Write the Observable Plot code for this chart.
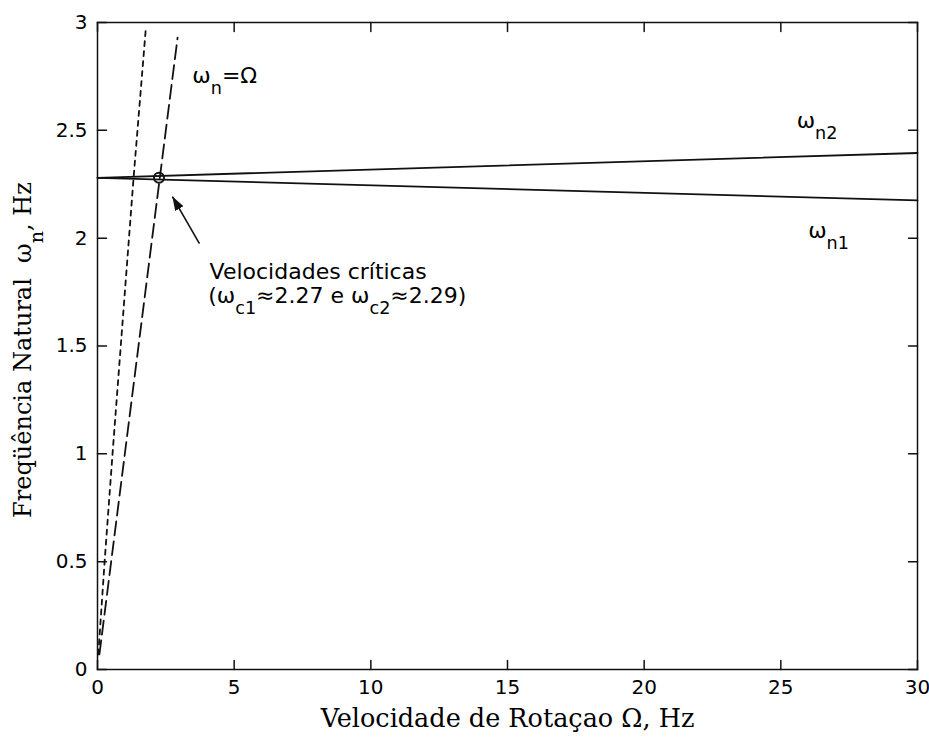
<!DOCTYPE html>
<html><head><meta charset="utf-8">
<script src="https://cdn.jsdelivr.net/npm/d3@7"></script>
<script src="https://cdn.jsdelivr.net/npm/@observablehq/plot@0.6"></script>
<style>body{margin:0;background:#fff;overflow:hidden}</style>
</head><body><div id="chart"></div>
<script>
// ---- data ----
const xTicks = [0, 5, 10, 15, 20, 25, 30];
const yTicks = [0, 0.5, 1, 1.5, 2, 2.5, 3];
const speedX = [0, 30];
const wn1 = [2.28, 2.175];
const wn2 = [2.28, 2.395];
const identX = [0.07, 2.93];
const identY = [0.07, 2.93];
const dashX = [0.03, 0.26, 0.55, 1.32, 1.76];
const dashY = [0.07, 0.5, 1.0, 2.28, 2.96];
const critX = [2.25];
const critY = [2.28];
const labelText = ["ω_{n}=Ω", "ω_{n2}", "ω_{n1}", "Velocidades críticas", "(ω_{c1}≈2.27 e ω_{c2}≈2.29)"];
const labelX = [3.47, 25.58, 26.0, 4.1, 4.05];
const labelY = [2.754, 2.545, 2.035, 1.845, 1.73];
const arrowFrom = [3.73, 1.975];
const arrowTo = [2.74, 2.193];
const xLabel = "Velocidade de Rotaçao Ω, Hz";
const yLabel = "Freqüência Natural\u00a0\u00a0ω_{n}, Hz";

// ---- tables ----
const line1 = d3.zip(speedX, wn1).map(([x, y]) => ({x, y}));
const line2 = d3.zip(speedX, wn2).map(([x, y]) => ({x, y}));
const identLine = d3.zip(identX, identY).map(([x, y]) => ({x, y}));
const dashLine = d3.zip(dashX, dashY).map(([x, y]) => ({x, y}));
const crit = d3.zip(critX, critY).map(([x, y]) => ({x, y}));
const labels = labelText.map((t, i) => ({t, x: labelX[i], y: labelY[i]}));
const arrows = [{x1: arrowFrom[0], y1: arrowFrom[1], x2: arrowTo[0], y2: arrowTo[1]}];

const INK = "#111";
const tickShape = {draw(ctx, l) { ctx.moveTo(0, 0); ctx.lineTo(0, -l); }};
const tickOpts = {length: 9, anchor: "start", shape: tickShape, stroke: INK, strokeWidth: 1.5};

function filledHead(color) {
  const m = d3.create("svg:marker")
    .attr("viewBox", "-14 -5 14 10")
    .attr("markerWidth", 14).attr("markerHeight", 10)
    .attr("markerUnits", "userSpaceOnUse")
    .attr("refX", 0).attr("refY", 0)
    .attr("orient", "auto");
  m.append("path").attr("d", "M0,0L-14,-4.8L-14,4.8Z").attr("fill", color).attr("stroke", "none");
  return m.node();
}

function build(arrowMark) {
  return Plot.plot({
    width: 929, height: 744,
    marginLeft: 97, marginRight: 12, marginTop: 22, marginBottom: 75,
    x: {domain: [0, 30]},
    y: {domain: [0, 3]},
    style: {fontFamily: "DejaVu Sans", fontSize: "20px", color: "black", background: "white"},
    marks: [
      Plot.line(line1, {x: "x", y: "y", stroke: INK, strokeWidth: 1.8}),
      Plot.line(line2, {x: "x", y: "y", stroke: INK, strokeWidth: 1.8}),
      Plot.line(identLine, {x: "x", y: "y", stroke: INK, strokeWidth: 1.8, strokeDasharray: "14,6"}),
      Plot.line(dashLine, {x: "x", y: "y", stroke: INK, strokeWidth: 1.8, strokeDasharray: "5,5"}),
      Plot.dot(crit, {x: "x", y: "y", r: 5, stroke: INK, strokeWidth: 2, fill: "none"}),
      arrowMark,
      Plot.text(labels, {x: "x", y: "y", text: "t", textAnchor: "start", fontSize: 22, fill: "black"}),
      Plot.frame({stroke: INK, strokeWidth: 1.5}),
      Plot.axisX(xTicks, {tickSize: 0, tickPadding: 10, label: null, fontSize: 20, tickFormat: d => String(d)}),
      Plot.axisY(yTicks, {tickSize: 0, tickPadding: 10, label: null, fontSize: 20, tickFormat: d => String(d)}),
      Plot.vector(xTicks, {x: d => d, y: 0, rotate: 0, ...tickOpts}),
      Plot.vector(xTicks, {x: d => d, y: 3, rotate: 180, ...tickOpts}),
      Plot.vector(yTicks, {x: 0, y: d => d, rotate: 90, ...tickOpts}),
      Plot.vector(yTicks, {x: 30, y: d => d, rotate: -90, ...tickOpts}),
      Plot.text([xLabel], {frameAnchor: "bottom", dy: 57, fontFamily: "DejaVu Serif", fontSize: 25.5, fill: "black"}),
      Plot.text([yLabel], {frameAnchor: "left", textAnchor: "middle", rotate: -90, dx: -74, dy: 4, fontFamily: "DejaVu Serif", fontSize: 24, fill: "black"})
    ]
  });
}

let chart;
try {
  chart = build(Plot.link(arrows, {x1: "x1", y1: "y1", x2: "x2", y2: "y2", stroke: INK, strokeWidth: 1.6, markerEnd: filledHead}));
} catch (e) {
  chart = build(Plot.arrow(arrows, {x1: "x1", y1: "y1", x2: "x2", y2: "y2", stroke: INK, strokeWidth: 2, headLength: 14, headAngle: 40}));
}

// subscripts: convert "_{...}" markup into shifted tspans
const NS = "http://www.w3.org/2000/svg";
chart.querySelectorAll("text").forEach(t => {
  const targets = t.querySelectorAll("tspan").length ? [...t.querySelectorAll("tspan")] : [t];
  targets.forEach(el => {
    const s = el.textContent;
    if (!s.includes("_{")) return;
    const holder = el.closest("[font-size]");
    const fs = holder ? parseFloat(holder.getAttribute("font-size")) : 20;
    const parts = s.split(/_\{([^}]*)\}/);
    el.textContent = "";
    let shifted = 0;
    parts.forEach((p, i) => {
      if (!p) return;
      const ts = document.createElementNS(NS, "tspan");
      ts.textContent = p;
      if (i % 2 === 1) {
        ts.setAttribute("font-size", fs * 0.8);
        ts.setAttribute("dy", fs * 0.5 - shifted);
        shifted = fs * 0.5;
      } else if (shifted) {
        ts.setAttribute("dy", -shifted);
        shifted = 0;
      }
      el.appendChild(ts);
    });
  });
});

document.getElementById("chart").appendChild(chart);
</script>
</body></html>
